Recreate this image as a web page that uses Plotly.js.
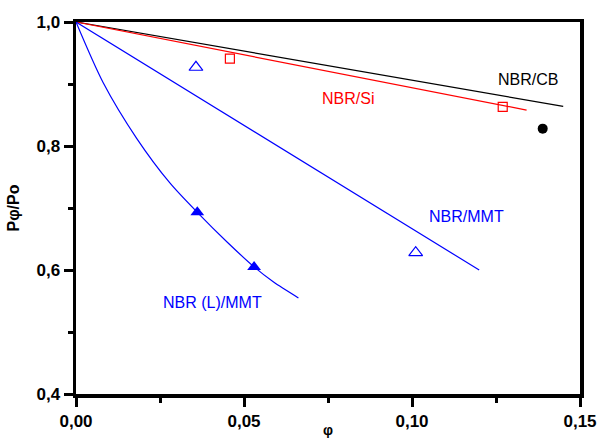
<!DOCTYPE html>
<html>
<head>
<meta charset="utf-8">
<script src="https://cdn.plot.ly/plotly-3.0.1.min.js"></script>
<style>html,body{margin:0;padding:0;background:#fff;}#chart{width:598px;height:438px;}</style>
</head>
<body>
<div id="chart"></div>
<script>
// NBR/CB fitted line
const cbLineX = [0, 0.145];
const cbLineY = [1.0, 0.864];
const cbPointX = [0.1389];
const cbPointY = [0.828];
// NBR/Si
const siLineX = [0, 0.1341];
const siLineY = [1.0, 0.858];
const siPointX = [0.0458, 0.127];
const siPointY = [0.941, 0.863];
// NBR/MMT
const mmtLineX = [0, 0.12];
const mmtLineY = [1.0, 0.600];
const mmtPointX = [0.0357, 0.1011];
const mmtPointY = [0.927, 0.628];
// NBR (L)/MMT curve
const lmmtCurveX = [0, 0.0081, 0.0181, 0.0280, 0.0361, 0.0448, 0.0530, 0.0587, 0.0662];
const lmmtCurveY = [1.0, 0.902, 0.812, 0.740, 0.693, 0.646, 0.605, 0.581, 0.555];
const lmmtPointX = [0.0361, 0.0530];
const lmmtPointY = [0.693, 0.605];

const labelText = ['NBR/CB', 'NBR/Si', 'NBR/MMT', 'NBR (L)/MMT'];
const labelX = [0.1344, 0.0810, 0.1161, 0.0407];
const labelY = [0.908, 0.876, 0.687, 0.547];
const labelColor = ['#000000', '#ff0000', '#0000ff', '#0000ff'];

const blue = '#0000ff';
const traces = [
  {x: cbLineX, y: cbLineY, mode: 'lines', line: {color: '#000', width: 1.2}},
  {x: cbPointX, y: cbPointY, mode: 'markers', marker: {symbol: 'circle', size: 10, color: '#000'}},
  {x: siLineX, y: siLineY, mode: 'lines', line: {color: '#ff0000', width: 1.2}},
  {x: siPointX, y: siPointY, mode: 'markers', marker: {symbol: 'square-open', size: 9, color: '#ff0000', line: {width: 1.2}}},
  {x: mmtLineX, y: mmtLineY, mode: 'lines', line: {color: blue, width: 1.2}},
  {x: mmtPointX, y: mmtPointY, mode: 'markers', marker: {symbol: 'triangle-up-open', size: 12, color: blue, line: {width: 1.2}}},
  {x: lmmtCurveX, y: lmmtCurveY, mode: 'lines', line: {color: blue, width: 1.2, shape: 'spline', smoothing: 0.8}},
  {x: lmmtPointX, y: lmmtPointY, mode: 'markers', marker: {symbol: 'triangle-up', size: 12, color: blue}}
];

const annotations = labelText.map((t, i) => ({
  x: labelX[i], y: labelY[i], text: t, showarrow: false,
  font: {family: 'Arial, Liberation Sans, sans-serif', size: 16, color: labelColor[i]},
  xanchor: 'center', yanchor: 'middle'
}));

const layout = {
  width: 598, height: 438,
  margin: {l: 76, r: 18, t: 22, b: 44},
  paper_bgcolor: '#fff', plot_bgcolor: '#fff',
  showlegend: false,
  font: {family: 'Arial, Liberation Sans, sans-serif', color: '#000'},
  xaxis: {
    range: [0, 0.15], tickvals: [0, 0.05, 0.10, 0.15], ticktext: ['0,00', '0,05', '0,10', '0,15'],
    showgrid: false, zeroline: false, showline: true, linecolor: '#000', linewidth: 3.5, mirror: true,
    ticks: 'outside', ticklen: 9, tickwidth: 3, tickcolor: '#000',
    minor: {tickvals: [0.025, 0.075, 0.125], ticks: 'outside', ticklen: 5, tickwidth: 3, tickcolor: '#000', showgrid: false},
    tickfont: {size: 17, weight: 'bold'},
    title: {text: 'φ', font: {size: 14, weight: 'bold'}, standoff: 4}
  },
  yaxis: {
    range: [0.4, 1.0], tickvals: [0.4, 0.6, 0.8, 1.0], ticktext: ['0,4', '0,6', '0,8', '1,0'],
    showgrid: false, zeroline: false, showline: true, linecolor: '#000', linewidth: 3.5, mirror: true,
    ticks: 'outside', ticklen: 9, tickwidth: 3, tickcolor: '#000',
    minor: {tickvals: [0.5, 0.7, 0.9], ticks: 'outside', ticklen: 5, tickwidth: 3, tickcolor: '#000', showgrid: false},
    tickfont: {size: 17, weight: 'bold'},
    title: {text: 'Pφ/Po', font: {size: 16, weight: 'bold'}, standoff: 14}
  },
  annotations: annotations
};

Plotly.newPlot('chart', traces, layout, {displayModeBar: false, staticPlot: true});
</script>
</body>
</html>
